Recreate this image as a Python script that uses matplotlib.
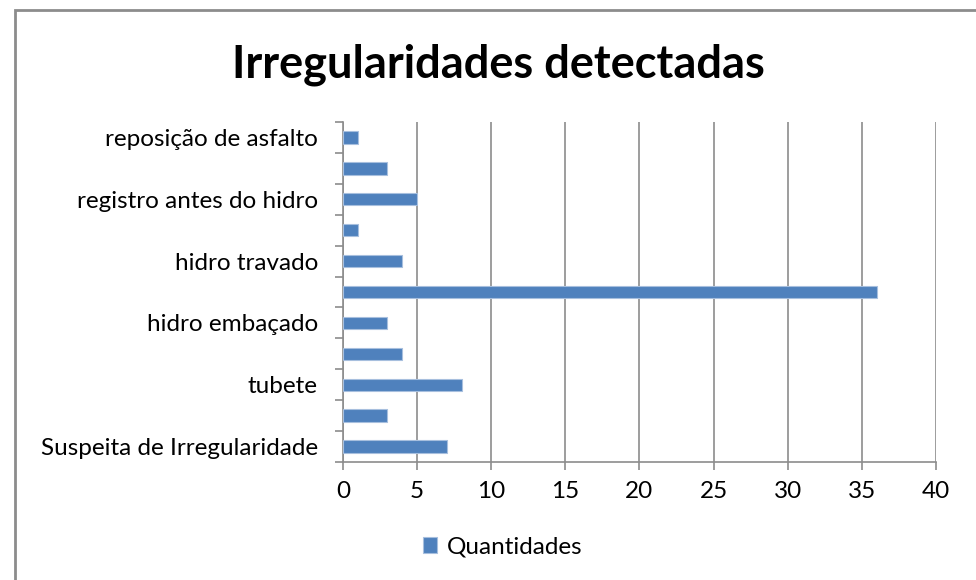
import matplotlib.pyplot as plt
from matplotlib.patches import Rectangle
import numpy as np

# categorias de baixo para cima (só as de índice par aparecem no eixo)
categorias = ["Suspeita de Irregularidade", "", "tubete", "", "hidro embaçado", "",
              "hidro travado", "", "registro antes do hidro", "", "reposição de asfalto"]
quantidades = [7, 3, 8, 4, 3, 36, 4, 1, 5, 3, 1]
xticks = [0, 5, 10, 15, 20, 25, 30, 35, 40]

plt.rcParams['font.family'] = ['Lato', 'DejaVu Sans']

fig = plt.figure(figsize=(9.76, 5.8), dpi=100)
ax = fig.add_axes([0.3514, 0.2034, 0.6076, 0.5863])

# moldura cinza do gráfico (estilo Excel)
fig.patches.append(Rectangle((15 / 976, -0.1), 1.2, 1.1 - 10 / 580, transform=fig.transFigure,
                             fill=False, edgecolor='#8c8c8c', linewidth=2))

pos = np.arange(len(categorias))
ax.barh(pos, quantidades, height=0.4, color='#4F81BD', edgecolor='#A7BFDE',
        linewidth=0.8, label='Quantidades', zorder=3)

ax.set_xlim(0, 40)
ax.set_ylim(-0.5, len(categorias) - 0.5)
ax.set_xticks(xticks)
ax.grid(axis='x', color='#8c8c8c', linewidth=1.2, zorder=0)

rotulos = [i for i, c in enumerate(categorias) if c]
ax.set_yticks(rotulos)
ax.set_yticklabels([categorias[i] for i in rotulos])
ax.set_yticks(np.arange(-0.5, len(categorias), 1), minor=True)
ax.tick_params(axis='y', which='major', length=0, pad=18, labelsize=17.5)
ax.tick_params(axis='y', which='minor', length=6, color='#8c8c8c', width=1.2)
ax.tick_params(axis='x', length=6, color='#8c8c8c', width=1.2, labelsize=17.5, pad=8)

for s in ['top', 'right']:
    ax.spines[s].set_visible(False)
for s in ['left', 'bottom']:
    ax.spines[s].set_color('#8c8c8c')
    ax.spines[s].set_linewidth(1.2)

fig.text(0.511, 0.888, "Irregularidades detectadas", ha='center', va='center',
         fontsize=32.5, fontweight='bold')

fig.legend(loc='center', bbox_to_anchor=(0.515, 0.057), frameon=False, fontsize=17.5,
           handlelength=0.6, handleheight=0.6, handletextpad=0.4)

fig.savefig('out.png', dpi=100)
